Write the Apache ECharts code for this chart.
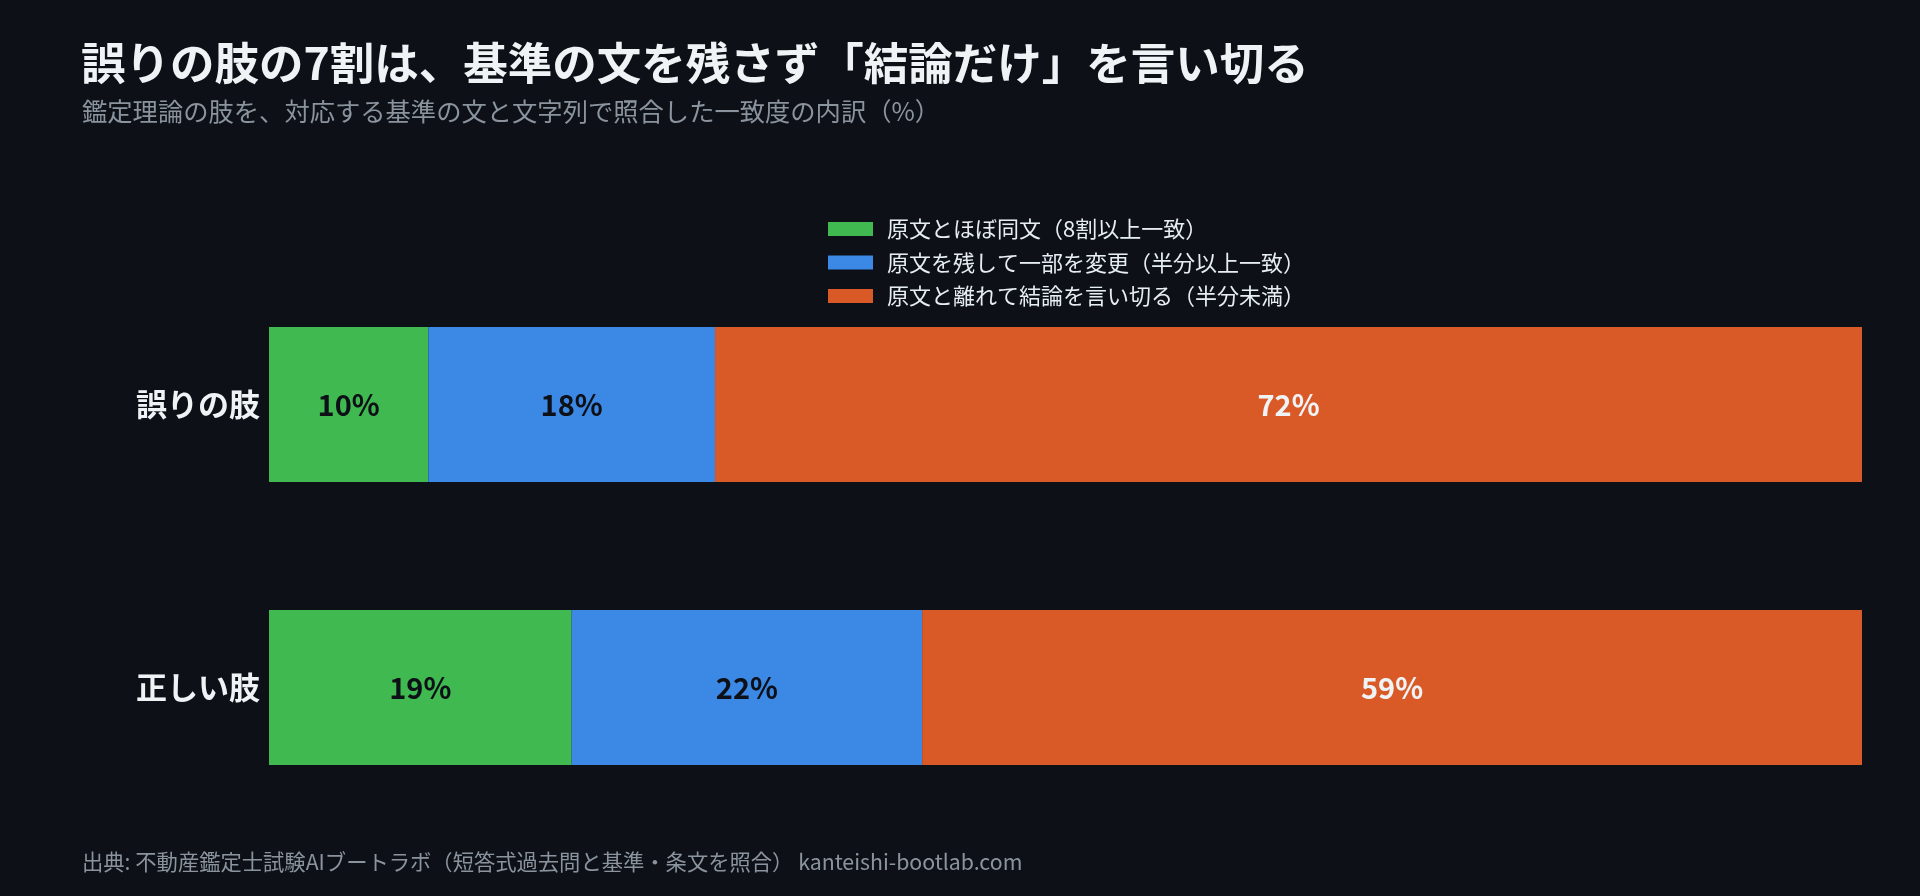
<!DOCTYPE html>
<html>
<head>
<meta charset="utf-8">
<script src="https://cdn.jsdelivr.net/npm/echarts@6/dist/echarts.min.js"></script>
<style>
  html, body { margin: 0; padding: 0; background: #0d1117; }
  #chart { width: 1920px; height: 896px; }
</style>
</head>
<body>
<div id="chart"></div>
<script>
  var categories = ['誤りの肢', '正しい肢'];
  var seriesNames = [
    '原文とほぼ同文（8割以上一致）',
    '原文を残して一部を変更（半分以上一致）',
    '原文と離れて結論を言い切る（半分未満）'
  ];
  var sameValues = [10, 19];
  var partValues = [18, 22];
  var farValues = [72, 59];

  var colors = ['#3fb950', '#3b88e5', '#d95a26'];
  var labelColors = ['#0d1117', '#0d1117', '#f0f3f6'];
  var font = '"Noto Sans CJK JP", "Noto Sans", sans-serif';

  var myChart = echarts.init(document.getElementById('chart'));

  var series = [sameValues, partValues, farValues].map(function (vals, i) {
    return {
      name: seriesNames[i],
      type: 'bar',
      stack: 'total',
      barWidth: 155,
      data: vals,
      itemStyle: { color: colors[i] },
      label: {
        show: true,
        position: 'inside',
        formatter: '{c}%',
        color: labelColors[i],
        fontSize: 29,
        fontWeight: 'bold',
        fontFamily: font
      },
      emphasis: { disabled: true }
    };
  });

  myChart.setOption({
    backgroundColor: '#0d1117',
    animation: false,
    title: [
      {
        text: '誤りの肢の7割は、基準の文を残さず「結論だけ」を言い切る',
        left: 76,
        top: 36,
        textStyle: { color: '#f0f3f6', fontSize: 44.5, fontWeight: 'bold', fontFamily: font }
      },
      {
        text: '鑑定理論の肢を、対応する基準の文と文字列で照合した一致度の内訳（%）',
        left: 77,
        top: 94,
        textStyle: { color: '#8b949e', fontSize: 25.3, fontWeight: 'normal', fontFamily: font }
      },
      {
        text: '出典: 不動産鑑定士試験AIブートラボ（短答式過去問と基準・条文を照合） kanteishi-bootlab.com',
        left: 77,
        top: 846,
        textStyle: { color: '#8b949e', fontSize: 21.3, fontWeight: 'normal', fontFamily: font }
      }
    ],
    legend: {
      orient: 'vertical',
      left: 823,
      top: 213,
      itemWidth: 45,
      itemHeight: 14,
      itemGap: 11.5,
      icon: 'rect',
      selectedMode: false,
      textStyle: { color: '#e6edf3', fontSize: 22, fontFamily: font, padding: [0, 0, 0, 9] },
      data: seriesNames
    },
    grid: { left: 269, right: 58, top: 263, bottom: 67 },
    xAxis: {
      type: 'value',
      min: 0,
      max: 100,
      show: false
    },
    yAxis: {
      type: 'category',
      inverse: true,
      data: categories,
      axisLine: { show: false },
      axisTick: { show: false },
      axisLabel: {
        color: '#f0f3f6',
        fontSize: 31,
        fontWeight: 'bold',
        fontFamily: font,
        margin: 9
      }
    },
    series: series
  });
</script>
</body>
</html>
